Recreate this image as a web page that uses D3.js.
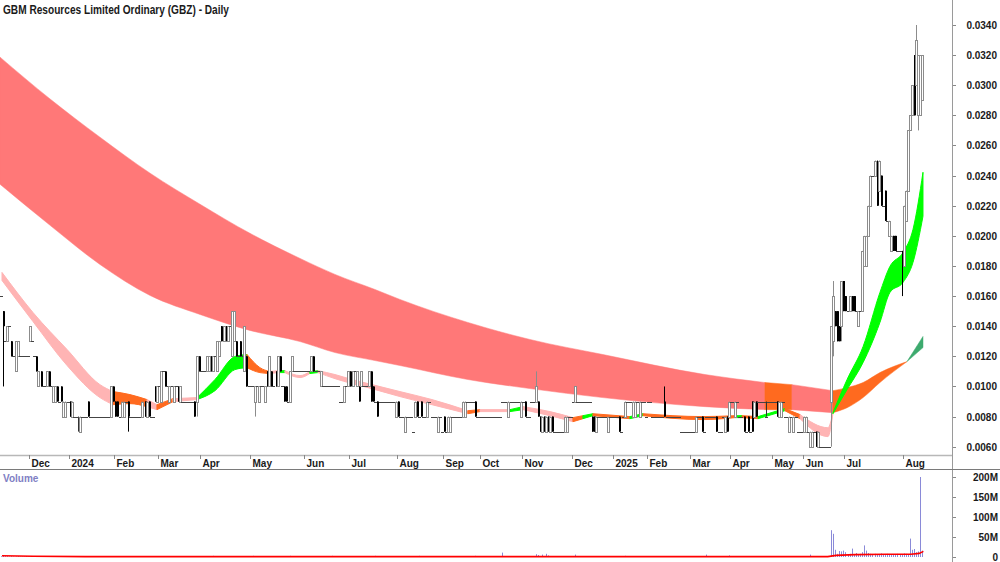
<!DOCTYPE html>
<html><head><meta charset="utf-8">
<script src="https://cdn.jsdelivr.net/npm/d3@7/dist/d3.min.js"></script>
<style>
body{margin:0;background:#fff;}
svg{display:block;}
text{font-family:"Liberation Sans",Arial,sans-serif;font-weight:bold;}
</style>
</head><body>
<svg id="c" width="1000" height="562"></svg>
<script>
const TITLE = "GBM Resources Limited Ordinary (GBZ) - Daily";
const PRICE_UNIT = 0.001; // prices below are in units of $0.001
const OPEN = [
16,15,13,13,14,13,12,11,12,12, 12,12,12,12,13,13,12,12,10,11, 10,10,10,11,10,9,9,10,9,10, 8,8,9,9,8,8,8,8,7,8,
8,8,9,8,8,8,8,8,8,8, 8,8,8,8,10,9,9,8,8,8, 9,9,8,8,8,8,8,8,8,9, 8,9,8,8,10,9,10,9,11,11,
10,9,10,9,10,10,9,9,9,9, 9,9,9,9,9,12,11,11,11,11, 11,12,11,12,11,12,14,13,14,13, 14,12,13,13,12,13,12,11,12,10,
10,10,9,10,9,10,10,9,11,10, 11,10,11,10,12,10,10,10,9,9, 11,11,11,11,11,11,11,11,11,11, 12,11,11,11,10,10,10,10,10,10,
10,10,10,9,9,9,10,10,11,10, 11,10,10,10,10,10,10,10,11,10, 9,9,9,9,9,9,9,9,9,9, 8,9,8,8,7,8,8,8,7,8,
9,8,9,8,8,8,9,8,8,8, 7,8,7,8,7,7,7,8,8,8, 8,8,8,8,9,9,9,9,9,8, 8,8,8,8,8,8,8,8,8,8,
8,9,9,9,8,9,9,9,9,9, 8,9,9,8,8,9,9,9,9,8, 7,8,7,8,7,8,7,7,7,7, 7,7,7,8,8,9,9,9,9,9,
9,9,9,9,8,8,7,8,8,8, 8,8,7,8,8,8,8,8,7,8, 8,9,9,9,8,8,9,8,9,9, 8,9,9,8,8,8,8,8,8,9,
8,8,8,8,8,8,8,7,7,7, 7,7,7,7,7,8,8,8,7,8, 8,8,8,8,8,7,7,8,7,8, 8,9,9,8,9,8,8,8,7,8,
7,9,8,9,9,9,9,9,8,9, 9,9,9,9,8,8,9,8,8,7, 8,7,8,7,7,7,7,7,7,6, 6,7,7,6,6,6,6,6,6,9,
13,15,15,14,14,17,16,15,15,16, 16,15,14,15,15,18,18,20,22,24, 24,24,23,24,22,23,21,20,19,20, 20,19,19,19,18,21,23,27,28,32,
30,28,28,29];
const HIGH = [
16,15,13,14,14,13,12,13,13,12, 12,12,12,12,14,13,12,12,11,11, 10,10,11,11,10,10,10,10,9,10, 9,9,9,9,9,8,8,8,8,8,
8,8,9,8,8,8,8,8,8,8, 8,8,8,10,10,9,9,8,9,9, 9,9,8,8,8,8,8,8,9,9, 9,9,8,8,10,10,10,11,11,11,
10,10,10,10,10,10,10,9,9,9, 9,9,9,9,12,12,11,11,11,12, 12,12,12,12,13,13,14,14,14,14, 14,15,15,13,12,13,12,14,12,10,
10,10,10,10,10,10,10,10,11,12, 11,10,11,12,12,10,10,10,9,11, 12,11,11,11,11,11,11,11,11,12, 12,11,11,11,11,10,10,10,10,10,
10,10,10,9,9,10,10,11,11,11, 11,11,10,11,10,10,10,11,11,10, 9,9,9,9,9,9,9,9,9,9, 9,9,8,8,8,8,8,8,7,9,
9,8,9,8,8,9,9,8,8,8, 8,8,7,8,7,8,8,8,8,8, 8,8,9,9,9,9,9,9,9,8, 8,8,8,8,8,8,8,8,8,8,
8,9,9,9,9,9,9,9,9,9, 9,9,9,8,8,9,9,11,9,8, 8,8,8,8,8,8,7,7,7,7, 7,8,8,8,8,9,10,9,9,9,
9,9,9,9,8,8,8,8,8,8, 8,8,8,8,8,8,8,8,7,8, 9,9,9,9,9,9,9,9,9,9, 8,9,9,8,8,8,8,8,8,10,
8,8,8,8,8,8,8,7,7,7, 7,7,7,7,8,8,8,8,7,8, 8,8,8,8,8,7,7,8,8,8, 9,9,9,9,9,8,8,8,7,8,
7,9,9,9,9,9,9,9,9,9, 9,9,9,9,9,9,9,8,8,8, 8,8,8,7,7,7,8,8,7,7, 7,7,7,7,6,6,6,6,6,14,
17,15,15,14,17,17,16,15,16,16, 16,15,15,15,19,20,20,22,24,24, 25,25,25,24,22,23,21,21,20,20, 20,19,19,19,22,23,27,28,30,32,
34,32,32,32];
const LOW = [
16,10,13,13,14,12,12,11,12,12, 12,12,12,12,13,13,12,11,10,10, 10,10,10,10,10,9,9,9,9,9, 8,8,9,8,8,8,8,7,7,8,
8,8,8,8,8,8,8,8,8,8, 8,8,8,8,9,8,8,8,8,8, 9,7,8,8,8,8,8,8,8,8, 8,8,8,8,9,9,10,9,11,10,
10,9,10,9,10,9,9,9,9,9, 9,9,9,8,8,11,11,11,11,11, 11,11,11,12,11,12,13,13,13,13, 14,12,13,12,12,12,12,11,10,10,
10,10,8,10,9,10,10,9,10,10, 10,10,10,10,11,10,9,9,9,9, 11,11,11,11,11,11,11,11,11,11, 11,11,11,11,10,10,10,10,10,10,
10,10,10,9,9,9,10,10,10,10, 11,10,9,10,10,10,10,10,9,9, 9,8,9,9,9,9,9,9,9,9, 8,8,8,8,7,8,8,8,7,8,
8,8,8,8,8,8,9,8,8,8, 7,8,7,7,7,7,7,8,8,8, 8,8,8,8,9,9,9,9,8,8, 8,8,8,8,8,8,8,8,8,8,
8,9,9,9,8,9,9,9,9,9, 8,9,8,8,8,9,9,9,8,7, 7,7,7,7,7,7,7,7,7,7, 7,7,7,8,8,9,9,9,9,9,
9,9,9,9,7,7,7,8,8,8, 8,8,7,8,8,8,8,7,7,8, 8,9,9,9,8,8,9,8,9,9, 8,9,9,8,8,8,8,8,8,8,
8,8,8,8,8,8,8,7,7,7, 7,7,7,7,7,8,8,7,7,8, 8,8,8,8,7,7,7,8,7,7, 8,9,9,8,9,8,8,7,7,7,
7,7,8,8,9,9,9,9,8,9, 9,9,9,8,8,8,9,8,8,7, 8,7,8,7,7,7,7,7,7,6, 6,7,6,6,6,6,6,6,6,6,
12,14,13,13,13,15,15,15,15,15, 15,15,14,15,15,18,18,20,22,24, 24,22,23,22,22,21,21,20,19,19, 19,19,19,16,18,21,23,27,28,28,
30,27,28,29];
const CLOSE = [
16,14,13,14,14,12,12,13,13,12, 12,12,12,12,14,13,12,11,11,10, 10,10,11,10,10,10,10,9,9,9, 9,9,9,8,9,8,8,8,8,8,
8,8,8,8,8,8,8,8,8,8, 8,8,8,10,9,8,8,8,9,9, 9,8,8,8,8,8,8,8,9,8, 9,8,8,8,9,10,10,11,11,10,
10,10,10,10,10,9,10,9,9,9, 9,9,9,8,12,11,11,11,11,12, 12,11,12,12,13,13,13,14,13,14, 14,15,15,12,12,12,12,14,10,10,
10,10,10,10,10,10,10,10,10,12, 10,10,10,12,11,10,9,9,9,11, 12,11,11,11,11,11,11,11,11,12, 11,11,11,11,11,10,10,10,10,10,
10,10,10,9,9,10,10,11,10,11, 11,11,9,11,10,10,10,11,9,9, 9,8,9,9,9,9,9,9,9,9, 9,8,8,8,8,8,8,8,7,9,
8,8,8,8,8,9,9,8,8,8, 8,8,7,7,7,8,8,8,8,8, 8,8,9,9,9,9,9,9,8,8, 8,8,8,8,8,8,8,8,8,8,
8,9,9,9,9,9,9,9,9,9, 9,9,8,8,8,9,9,10,8,7, 8,7,8,7,8,7,7,7,7,7, 7,8,8,8,8,9,10,9,9,9,
9,9,9,9,7,7,8,8,8,8, 8,8,8,8,8,8,8,7,7,8, 9,9,9,9,9,9,9,9,9,9, 8,9,9,8,8,8,8,8,8,8,
8,8,8,8,8,8,8,7,7,7, 7,7,7,7,8,8,8,7,7,8, 8,8,8,8,7,7,7,8,8,7, 9,9,9,9,9,8,8,7,7,7,
7,7,9,8,9,9,9,9,8,9, 9,9,9,8,9,9,9,8,8,8, 8,8,8,7,7,7,8,8,7,7, 7,7,6,7,6,6,6,6,6,14,
16,14,13,13,17,15,15,15,16,15, 15,15,15,15,19,20,20,22,24,24, 25,22,25,22,22,21,21,21,20,19, 19,19,19,18,22,23,27,28,30,28,
33,32,32,32];
const VOLUME_M = [
2,3,2,2,1,2,1,1,2,1, 1,1,2,1,1,1,1,2,1,1, 1,1,1,1,1,1,1,1,1,1, 1,1,1,1,1,1,1,1,1,1,
1,1,1,1,1,1,1,1,1,1, 1,1,1,2,1,1,1,1,1,1, 1,1,1,1,1,1,1,1,1,1, 1,1,1,1,1,1,1,2,1,1,
1,1,1,1,1,1,1,1,1,1, 1,1,1,1,1,2,1,1,1,1, 1,1,3,1,1,1,1,1,1,1, 1,2,1,1,1,1,1,1,1,1,
1,3,1,1,1,1,1,1,1,1, 1,1,1,1,1,1,1,1,1,3, 1,1,1,1,1,1,1,1,1,1, 1,1,1,1,1,1,1,1,1,3,
1,1,1,1,1,1,1,1,1,1, 1,1,1,1,1,1,1,1,1,1, 3,1,1,1,1,1,1,1,1,1, 1,1,1,1,1,1,1,1,1,1,
1,3,1,1,1,1,1,1,1,1, 1,1,1,1,1,1,1,1,1,1, 1,1,1,1,1,1,1,1,3,1, 1,1,1,1,1,1,1,1,1,1,
1,11,1,1,1,1,1,1,1,1, 1,1,1,1,1,1,1,7,5,2, 6,2,8,4,1,1,1,1,1,1, 1,1,1,1,1,1,6,1,1,1,
1,1,1,1,1,1,1,1,1,1, 1,1,1,1,1,1,1,1,1,1, 3,1,1,1,1,1,1,1,1,1, 1,1,1,1,1,1,1,1,1,1,
1,1,1,1,1,1,1,1,1,1, 1,1,1,1,1,1,1,1,1,6, 1,1,1,1,1,1,1,1,1,1, 4,1,1,1,1,1,1,1,1,1,
1,1,1,1,1,1,1,1,1,1, 1,1,1,1,1,1,1,1,1,1, 1,1,1,1,1,1,1,1,1,6, 1,1,1,1,1,1,1,1,2,67,
58,18,8,15,14,16,12,6,8,21, 7,10,6,8,12,29,16,10,8,7, 8,7,6,9,7,6,8,7,6,7, 6,8,7,6,9,8,7,46,18,20,
12,14,200,16];
const VOLMA_IDX = [0, 15, 40, 397, 401, 410, 425, 437, 441, 443];
const VOLMA_M   = [3, 2, 1, 1, 4, 6, 7, 7, 9, 14];

const MONTH_IDX = [13, 32, 54, 75, 95, 119, 145, 167, 190, 212, 230, 250, 274, 294, 310, 331, 350, 370, 385, 405, 433];
const MONTH_LABELS = ["Dec","2024","Feb","Mar","Apr","May","Jun","Jul","Aug","Sep","Oct","Nov","Dec","2025","Feb","Mar","Apr","May","Jun","Jul","Aug"];
const PRICE_TICKS = [6,8,10,12,14,16,18,20,22,24,26,28,30,32,34];
const VOL_TICKS = [0,50,100,150,200];
const VOL_TICK_LABELS = ["0","50M","100M","150M","200M"];

// short-term MA ribbon (sampled edges, in $0.001), colour of segment starting at sample
const SHORT_IDX = [0,14.9,31.3,47.1,53.4,61.5,69.7,74.5,82.2,93.8,102.4,112,117.8,124,128.8,132.7,136,143.3,148,151.9,160.1,168.3,176,191.3,206.7,224,229.8,244.2,250.5,263.5,274.5,279.3,284.1,301.9,308.2,337,352.4,355.8,363.5,376.4,383.7,397.1,399.5,406.3,414,422.1,426.9,433.2,438,442.8];
const SHORT_A = [17.57,14.91,12.45,10.12,9.66,9.46,9.13,8.79,9.19,9.26,10.46,11.99,12.12,11.25,10.99,11.05,11.05,10.72,10.99,11.05,10.79,10.46,10.19,9.66,9.13,8.39,8.46,8.46,8.66,8.33,7.93,8.06,8.19,8.00,8.19,8.00,8.06,8.06,8.00,8.53,8.13,7.26,8.26,10.46,12.65,16.24,17.97,18.90,20.43,24.22];
const SHORT_B = [17.04,14.31,11.39,9.26,8.79,8.86,8.66,8.46,8.99,9.13,9.72,11.12,11.25,10.92,10.86,10.92,10.92,10.59,10.86,10.92,10.52,10.19,9.92,9.33,8.79,8.19,8.33,8.33,8.46,8.06,7.66,7.86,8.06,7.86,8.06,7.80,7.93,7.93,7.86,8.39,7.86,6.67,8.19,9.79,11.59,14.25,16.24,16.91,18.24,21.30];
const SHORT_COL = ["P","P","P","P","O","O","P","O","P","G","G","G","O","O","P","G","P","P","G","P","P","P","P","P","P","O","P","G","P","P","O","G","O","G","O","O","G","O","G","O","P","P","G","G","G","G","G","G","G","G"];

// long-term MA ribbon
const LONG_IDX = [-1,23.1,47.1,71.2,95.2,119.2,143.3,160.1,179.3,191.3,224,253.8,288.9,338,366.8,379.8,399.5,406.3,414,422.1,435.1,442.8];
const LONG_A = [31.87,29.09,26.55,24.16,22.10,20.17,18.50,17.44,16.44,15.78,14.25,13.12,12.12,10.79,10.26,10.12,9.72,9.92,10.26,10.92,11.65,13.32];
const LONG_B = [23.43,20.70,18.10,16.04,14.78,13.72,12.98,12.25,11.72,11.39,10.46,9.86,9.26,8.66,8.46,8.46,8.26,8.59,9.26,10.26,11.65,12.58];
const LONG_COL = ["S","S","S","S","S","S","S","S","S","S","S","S","S","S","O","S","O","O","O","O","D","D"];

const COLORS = {P:"#FFB4B4", O:"#FF6A1F", G:"#00FF00", S:"#FF7878", D:"#3DAA6E"};

const svg = d3.select("#c");
const AXIS_X = 952;
const x = d3.scaleLinear().domain([0, OPEN.length - 1]).range([2, 923.4]);
const y = d3.scaleLinear().domain([6, 34]).range([446.7, 25]);
const yv = d3.scaleLinear().domain([0, 200]).range([557, 477]);

const defs = svg.append("defs");
defs.append("clipPath").attr("id","pc").append("rect").attr("x",0).attr("y",0).attr("width",AXIS_X).attr("height",455);
defs.append("clipPath").attr("id","vc").append("rect").attr("x",0).attr("y",470).attr("width",AXIS_X).attr("height",92);

const gp = svg.append("g").attr("clip-path","url(#pc)");

function ribbon(idx, a, b, col, strokeW){
  const pts = idx.map((d,k)=>({i:d,a:a[k],b:b[k],c:col[k]}));
  const area = d3.area().x(d=>x(d.i)).y0(d=>y(d.a)).y1(d=>y(d.b)).curve(d3.curveMonotoneX);
  let s = 0;
  for(let k=1;k<pts.length;k++){
    const last = k === pts.length-1;
    if(pts[k].c !== pts[s].c || last){
      gp.append("path").attr("d", area(pts.slice(s,k+1)))
        .attr("fill", COLORS[pts[s].c]).attr("stroke", COLORS[pts[s].c]).attr("stroke-width", strokeW);
      s = k;
    }
  }
}
ribbon(LONG_IDX, LONG_A, LONG_B, LONG_COL, 0.5);
ribbon(SHORT_IDX, SHORT_A, SHORT_B, SHORT_COL, 1);

// candles
const gc = gp.append("g");
OPEN.forEach((o,i)=>{
  const h = HIGH[i], l = LOW[i], c = CLOSE[i];
  const cx = Math.round(x(i));
  if(o === c){
    if(h !== l){
      gc.append("line").attr("x1",cx-0.5).attr("x2",cx-0.5).attr("y1",y(h)).attr("y2",y(l)).attr("stroke","#333").attr("stroke-width",1);
    }
    const yy = Math.round(y(c)) + 0.5;
    gc.append("line").attr("x1",cx-2).attr("x2",cx+1).attr("y1",yy).attr("y2",yy).attr("stroke","#444").attr("stroke-width",1);
  } else if(c > o){
    gc.append("line").attr("x1",cx-0.5).attr("x2",cx-0.5).attr("y1",y(h)).attr("y2",y(l)).attr("stroke","#8c8c8c").attr("stroke-width",1);
    gc.append("rect").attr("x",cx-1.5).attr("width",2).attr("y",Math.round(y(c))+0.5).attr("height",Math.max(1,Math.round(y(o))-Math.round(y(c))))
      .attr("fill","#fff").attr("stroke","#8c8c8c").attr("stroke-width",1);
  } else {
    gc.append("line").attr("x1",cx-0.5).attr("x2",cx-0.5).attr("y1",y(h)).attr("y2",y(l)).attr("stroke","#000").attr("stroke-width",1);
    gc.append("rect").attr("x",cx-1).attr("width",2).attr("y",y(o)).attr("height",Math.max(1,y(c)-y(o))).attr("fill","#000");
  }
});

// volume
const gv = svg.append("g").attr("clip-path","url(#vc)");
VOLUME_M.forEach((v,i)=>{
  const cx = Math.round(x(i)) - 0.5;
  gv.append("line").attr("x1",cx).attr("x2",cx).attr("y1",yv(0)).attr("y2",yv(v)).attr("stroke","#8A8AD8").attr("stroke-width",1);
});
gv.append("path").attr("d", d3.line().x(d=>x(d[0])).y(d=>yv(d[1]))(VOLMA_IDX.map((d,k)=>[d,VOLMA_M[k]])))
  .attr("fill","none").attr("stroke","#FF0000").attr("stroke-width",1.6);

// frame lines
svg.append("line").attr("x1",AXIS_X+0.5).attr("x2",AXIS_X+0.5).attr("y1",0).attr("y2",562).attr("stroke","#9a9a9a");
svg.append("line").attr("x1",0).attr("x2",AXIS_X).attr("y1",455.5).attr("y2",455.5).attr("stroke","#b8b8b8").attr("stroke-width",1.5);
svg.append("line").attr("x1",0).attr("x2",1000).attr("y1",469.5).attr("y2",469.5).attr("stroke","#7a7a7a");

// price axis
PRICE_TICKS.forEach(t=>{
  const yy = Math.round(y(t)) + 0.5;
  svg.append("line").attr("x1",AXIS_X+1).attr("x2",AXIS_X+4).attr("y1",yy).attr("y2",yy).attr("stroke","#888");
  svg.append("text").attr("x",997).attr("y",yy+3.5).attr("text-anchor","end").attr("font-size",10).attr("fill","#1a1a1a")
    .text(d3.format(".4f")(t*PRICE_UNIT));
});
// volume axis
VOL_TICKS.forEach((t,k)=>{
  const yy = Math.round(yv(t)) + 0.5;
  svg.append("line").attr("x1",AXIS_X+1).attr("x2",AXIS_X+4).attr("y1",yy).attr("y2",yy).attr("stroke","#888");
  svg.append("text").attr("x",998).attr("y",yy+3.5).attr("text-anchor","end").attr("font-size",10).attr("fill","#1a1a1a").text(VOL_TICK_LABELS[k]);
});
// month axis
MONTH_IDX.forEach((m,k)=>{
  const xx = Math.round(x(m)) + 0.5;
  svg.append("line").attr("x1",xx).attr("x2",xx).attr("y1",455).attr("y2",459).attr("stroke","#888");
  svg.append("text").attr("x",xx+2).attr("y",467).attr("font-size",10).attr("fill","#1a1a1a").text(MONTH_LABELS[k]);
});

svg.append("text").attr("x",3).attr("y",14).attr("font-size",12).attr("fill","#1a1a1a")
  .attr("textLength",226).attr("lengthAdjust","spacingAndGlyphs").text(TITLE);
svg.append("text").attr("x",3).attr("y",482).attr("font-size",10).attr("fill","#8080C4").text("Volume");
</script>
</body></html>
